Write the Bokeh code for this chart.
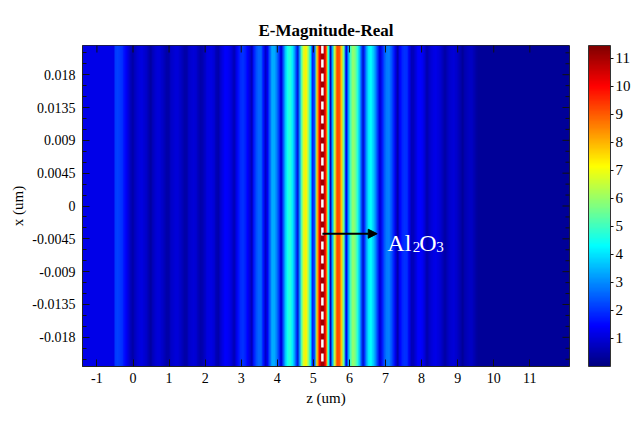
import numpy as np
from bokeh.plotting import figure
from bokeh.models import (LinearColorMapper, ColorBar, FixedTicker,
                          Span, Arrow, NormalHead, Label, Range1d)
from bokeh.embed import file_html
from bokeh.resources import INLINE

# ---------------- data ----------------
TITLE = "E-Magnitude-Real"
X_LABEL = "z (um)"
Y_LABEL = "x (um)"

Z_MIN, Z_MAX = -1.4, 12.1          # horizontal extent of the field map (um)
X_MIN, X_MAX = -0.022, 0.022       # vertical extent (um)
Z_STEP = 0.05                      # sampling step of the profile

LEFT_END = -0.5                    # constant field left of this z
LEFT_VALUE = 1.2
RIGHT_START = 9.55                 # constant field right of this z
RIGHT_VALUE = 0.28

# |E| along z, from z=-0.5 to z=9.55 in 0.05 um cells
PROFILE = [
    2.1, 2.15, 2.1, 2.0, 1.85, 1.6, 1.3, 1.0, 0.7, 0.45,
    0.6, 0.79, 0.95, 1.06, 1.1, 1.07, 0.97, 0.81, 0.6, 0.37,
    0.55, 0.76, 0.91, 0.99, 0.99, 0.93, 0.81, 0.64, 0.45, 0.45,
    0.64, 0.81, 0.93, 0.99, 0.99, 0.93, 0.81, 0.64, 0.45, 0.46,
    0.68, 0.86, 0.97, 1.0, 0.95, 0.84, 0.67, 0.47, 0.56, 0.78,
    0.96, 1.09, 1.15, 1.13, 1.01, 0.83, 0.59, 0.51, 0.85, 1.13,
    1.32, 1.4, 1.36, 1.22, 1.0, 0.71, 0.67, 1.18, 1.6, 1.88,
    2.0, 1.94, 1.76, 1.47, 1.08, 0.63, 1.22, 1.86, 2.32, 2.57,
    2.56, 2.24, 1.62, 0.84, 1.33, 2.34, 3.04, 3.37, 3.32, 2.9,
    2.2, 1.3, 1.06, 2.49, 3.67, 4.46, 4.8, 4.64, 4.1, 3.24,
    2.09, 0.73, 3.0, 5.2, 6.7, 7.3, 6.97, 5.85, 4.07, 1.82,
    2.34, 5.47, 8.12, 10.06, 11.07, 11.05, 9.84, 7.63, 4.59, 0.73,
    3.45, 6.29, 8.27, 9.21, 9.04, 7.73, 5.56, 2.78, 1.25, 3.35,
    5.03, 5.9, 5.95, 5.51, 4.7, 3.62, 2.27, 0.64, 1.97, 3.22,
    4.04, 4.3, 4.12, 3.71, 3.01, 2.12, 1.12, 0.99, 1.77, 2.39,
    2.79, 2.9, 2.76, 2.4, 1.84, 1.17, 0.53, 1.07, 1.52, 1.84,
    1.99, 1.94, 1.66, 1.21, 0.64, 0.7, 1.02, 1.27, 1.42, 1.44,
    1.3, 1.0, 0.61, 0.54, 0.81, 1.02, 1.16, 1.2, 1.16, 1.06,
    0.9, 0.7, 0.47, 0.46, 0.68, 0.86, 0.97, 1.0, 0.96, 0.85,
    0.69, 0.5, 0.31, 0.47, 0.61, 0.71, 0.78, 0.8, 0.7, 0.55,
    0.4,
]

Z_TICKS = [-1, 0, 1, 2, 3, 4, 5, 6, 7, 8, 9, 10, 11]
Z_TICK_LABELS = ["-1", "0", "1", "2", "3", "4", "5", "6", "7", "8", "9", "10", "11"]
X_TICKS = [0.018, 0.0135, 0.009, 0.0045, 0, -0.0045, -0.009, -0.0135, -0.018]
X_TICK_LABELS = ["0.018", "0.0135", "0.009", "0.0045", "0",
                 "-0.0045", "-0.009", "-0.0135", "-0.018"]
X_MINOR_STEP = 0.0015

CBAR_TICKS = [1, 2, 3, 4, 5, 6, 7, 8, 9, 10, 11]
CBAR_LOW, CBAR_HIGH = 0.0, 11.45

LAYER_Z = 5.25                     # dashed marker of the Al2O3 layer
ARROW_Z0, ARROW_Z1, ARROW_X = 5.25, 6.77, -0.0038
LABEL_Z, LABEL_X = 7.05, -0.00505

FONT = "Liberation Serif"
INK = "#111111"

# ---------------- jet palette ----------------
def jet(n=256):
    cols = []
    for i in range(n):
        t = i / (n - 1)
        r = min(max(1.5 - abs(4 * t - 3), 0), 1)
        g = min(max(1.5 - abs(4 * t - 2), 0), 1)
        b = min(max(1.5 - abs(4 * t - 1), 0), 1)
        cols.append("#%02x%02x%02x" % (int(round(r * 255)), int(round(g * 255)), int(round(b * 255))))
    return cols

palette = jet()
mapper = LinearColorMapper(palette=palette, low=CBAR_LOW, high=CBAR_HIGH)

n_left = int(round((LEFT_END - Z_MIN) / Z_STEP))
n_right = int(round((Z_MAX - RIGHT_START) / Z_STEP))
row = np.concatenate([np.full(n_left, LEFT_VALUE), np.array(PROFILE, dtype=float),
                      np.full(n_right, RIGHT_VALUE)])
img = row[None, :]

p = figure(frame_width=487, frame_height=321, output_backend="svg", toolbar_location=None,
           x_range=Range1d(Z_MIN, Z_MAX), y_range=Range1d(X_MIN, X_MAX),
           min_border_left=82, min_border_top=45, min_border_bottom=48,
           min_border_right=59, tools="")
p.background_fill_color = "white"
p.border_fill_color = "white"
p.outline_line_color = "#222222"
p.outline_line_width = 1
p.grid.visible = False

p.image(image=[img], x=Z_MIN, y=X_MIN, dw=Z_MAX - Z_MIN, dh=X_MAX - X_MIN,
        color_mapper=mapper)

minor_y = [round(v, 4) for v in np.arange(-0.021, 0.02101, X_MINOR_STEP)
           if all(abs(v - t) > 1e-6 for t in X_TICKS)]
zt = FixedTicker(ticks=Z_TICKS, minor_ticks=[])
xt = FixedTicker(ticks=X_TICKS, minor_ticks=minor_y)

def style_axis(ax, ticker, overrides):
    ax.ticker = ticker
    ax.major_label_overrides = overrides
    ax.major_tick_in = 7
    ax.major_tick_out = 0
    ax.minor_tick_in = 4
    ax.minor_tick_out = 0
    ax.axis_line_color = "#222222"
    ax.major_tick_line_color = INK
    ax.minor_tick_line_color = INK
    ax.major_label_text_font = FONT
    ax.major_label_text_color = "black"
    ax.major_label_text_font_size = "14px"
    ax.axis_label_text_font = FONT
    ax.axis_label_text_font_size = "15px"
    ax.axis_label_text_font_style = "normal"
    ax.axis_label_text_color = "black"

zo = {float(t): s for t, s in zip(Z_TICKS, Z_TICK_LABELS)}
xo = {float(t): s for t, s in zip(X_TICKS, X_TICK_LABELS)}

xa = p.xaxis[0]
style_axis(xa, zt, zo)
xa.major_label_standoff = 6
xa.axis_label = X_LABEL
xa.axis_label_standoff = 4

ya = p.yaxis[0]
style_axis(ya, xt, xo)
ya.major_label_standoff = 7
ya.axis_label = Y_LABEL
ya.axis_label_standoff = 3

# mirrored ticks on the top and right frame edges (half of each dash is clipped by the frame)
p.scatter(x=Z_TICKS, y=[X_MAX] * len(Z_TICKS), marker="dash", angle=np.pi / 2,
          size=14, line_color=INK, line_width=1)
p.scatter(x=[Z_MAX] * len(X_TICKS), y=X_TICKS, marker="dash",
          size=14, line_color=INK, line_width=1)
p.scatter(x=[Z_MAX] * len(minor_y), y=minor_y, marker="dash",
          size=8, line_color=INK, line_width=1)

p.title.text = TITLE
p.title.text_font = FONT
p.title.text_font_size = "17px"
p.title.text_font_style = "bold"
p.title.text_color = "black"
p.title.align = "center"
p.title.standoff = 12

p.add_layout(Span(location=LAYER_Z, dimension="height", line_color="white",
                  line_width=2.5, line_dash="8 6"))
p.add_layout(Arrow(end=NormalHead(size=9, fill_color="black", line_color="black"),
                   x_start=ARROW_Z0, y_start=ARROW_X, x_end=ARROW_Z1, y_end=ARROW_X,
                   line_color="black", line_width=2))

for txt, dx, dy, size in [("Al", 0, 0, "24px"), ("2", 25.5, -4, "15px"),
                          ("O", 32, 0, "24px"), ("3", 49, -4, "15px")]:
    p.add_layout(Label(x=LABEL_Z, y=LABEL_X, x_offset=dx, y_offset=dy, text=txt,
                       text_color="white", text_font=FONT, text_font_size=size,
                       text_baseline="alphabetic"))

cb = ColorBar(color_mapper=mapper, ticker=FixedTicker(ticks=CBAR_TICKS),
              width=22, height=321, padding=0, margin=0, location=(19, 0),
              major_tick_in=0, major_tick_out=3, major_tick_line_color=INK,
              label_standoff=2, bar_line_color="#333333",
              major_label_text_font=FONT, major_label_text_font_size="15px",
              major_label_text_color="black",
              background_fill_alpha=0, border_line_color=None)
p.add_layout(cb, "right")

open("out.html", "w").write(file_html(p, INLINE))
